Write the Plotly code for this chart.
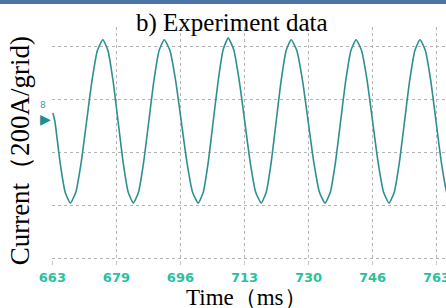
import plotly.graph_objects as go

# Time (ms) and current (A)
time_ms = [
    663.13, 663.65, 665.00, 666.33, 667.68,
    669.09, 670.50, 671.91, 673.32, 674.72, 676.13,
    677.46, 678.78, 680.10, 681.42, 682.75, 684.07,
    685.41, 686.75, 688.10, 689.44, 690.78, 692.13,
    693.60, 695.08, 696.55, 698.02, 699.50, 700.97,
    702.27, 703.57, 704.87, 706.17, 707.47, 708.77,
    710.20, 711.63, 713.07, 714.50, 715.93, 717.36,
    718.66, 719.96, 721.26, 722.56, 723.86, 725.16,
    726.63, 728.11, 729.58, 731.06, 732.53, 734.00,
    735.35, 736.69, 738.03, 739.38, 740.72, 742.06,
    743.49, 744.93, 746.36, 747.79, 749.22, 750.65,
    751.99, 753.33, 754.68, 756.02, 757.37, 758.71,
    760.10, 761.49, 762.87, 764.26, 765.65, 767.03,
]
current_a = [
    150, 119, -36, -149, -190,
    -149, -36, 119, 273, 386, 427,
    386, 273, 119, -36, -149, -190,
    -149, -36, 119, 273, 386, 427,
    386, 273, 119, -36, -149, -190,
    -149, -36, 119, 273, 390, 433,
    390, 273, 119, -36, -149, -190,
    -149, -36, 119, 273, 386, 427,
    386, 273, 119, -36, -149, -190,
    -149, -36, 119, 273, 386, 427,
    386, 273, 119, -36, -149, -190,
    -149, -36, 119, 273, 386, 427,
    386, 273, 119, -36, -149, -190,
]

tick_vals = [663, 679.667, 696.333, 713, 729.667, 746.333, 763]
tick_text = ["663", "679", "696", "713", "730", "746", "763"]

title_text = "b) Experiment data"
x_title = "Time（ms）"
y_title = "Current（200A/grid)"

serif = "Liberation Serif, Times New Roman, serif"

fig = go.Figure()
fig.add_trace(go.Scatter(
    x=time_ms, y=current_a, mode="lines",
    line=dict(color="#2f8f8f", width=1.6, shape="spline", smoothing=0.5),
    showlegend=False, hoverinfo="skip",
))

fig.update_layout(
    width=446, height=308,
    margin=dict(l=52, r=0, t=27, b=48),
    paper_bgcolor="white", plot_bgcolor="white",
    xaxis=dict(
        range=[662.9, 765.47],
        tickvals=tick_vals, ticktext=tick_text,
        showgrid=True, gridcolor="#b4b4b4", griddash="dot", gridwidth=1,
        ticks="outside", ticklen=4, tickcolor="#c8c8c8",
        zeroline=False, showline=False, automargin=False,
        ticklabeloverflow="allow", ticklabelstandoff=1,
        tickfont=dict(family="DejaVu Sans, Verdana, sans-serif", size=13,
                      color="#2cbf9d", weight="bold"),
    ),
    yaxis=dict(
        range=[-405, 475],
        tickvals=[-400, -200, 0, 200, 400],
        showticklabels=False,
        showgrid=True, gridcolor="#b4b4b4", griddash="dot", gridwidth=1,
        zeroline=False, showline=False, ticks="", automargin=False,
    ),
)

annotations = [
    dict(text=title_text, x=0.4556, y=1.017, xref="paper", yref="paper",
         xanchor="center", yanchor="middle", showarrow=False,
         font=dict(family=serif, size=25, color="black")),
    dict(text=x_title, x=0.4937, y=-0.16, xref="paper", yref="paper",
         xanchor="center", yanchor="middle", showarrow=False,
         font=dict(family=serif, size=23, color="black")),
    dict(text=y_title, x=-0.079, y=0.47, xref="paper", yref="paper",
         xanchor="center", yanchor="middle", showarrow=False, textangle=-90,
         font=dict(family=serif, size=27, color="black")),
    dict(text="▶", x=-0.016, y=0.605, xref="paper", yref="paper",
         xanchor="center", yanchor="middle", showarrow=False,
         font=dict(family="DejaVu Sans", size=14, color="#1a8f8f")),
    dict(text="8", x=-0.024, y=0.665, xref="paper", yref="paper",
         xanchor="center", yanchor="middle", showarrow=False,
         font=dict(family="DejaVu Sans", size=9, color="#3a9f9f")),
]
fig.update_layout(annotations=annotations)

fig.add_shape(type="rect", xref="paper", yref="paper", layer="above",
              x0=-0.132, x1=1.0, y0=(260 - 4) / 233, y1=(260 + 3) / 233,
              line=dict(width=0), fillcolor="#4d72a6")

fig.write_html(
    "out.html",
    config={"displayModeBar": False, "staticPlot": True},
    post_script="document.body.style.margin='0';document.body.style.padding='0';",
)
